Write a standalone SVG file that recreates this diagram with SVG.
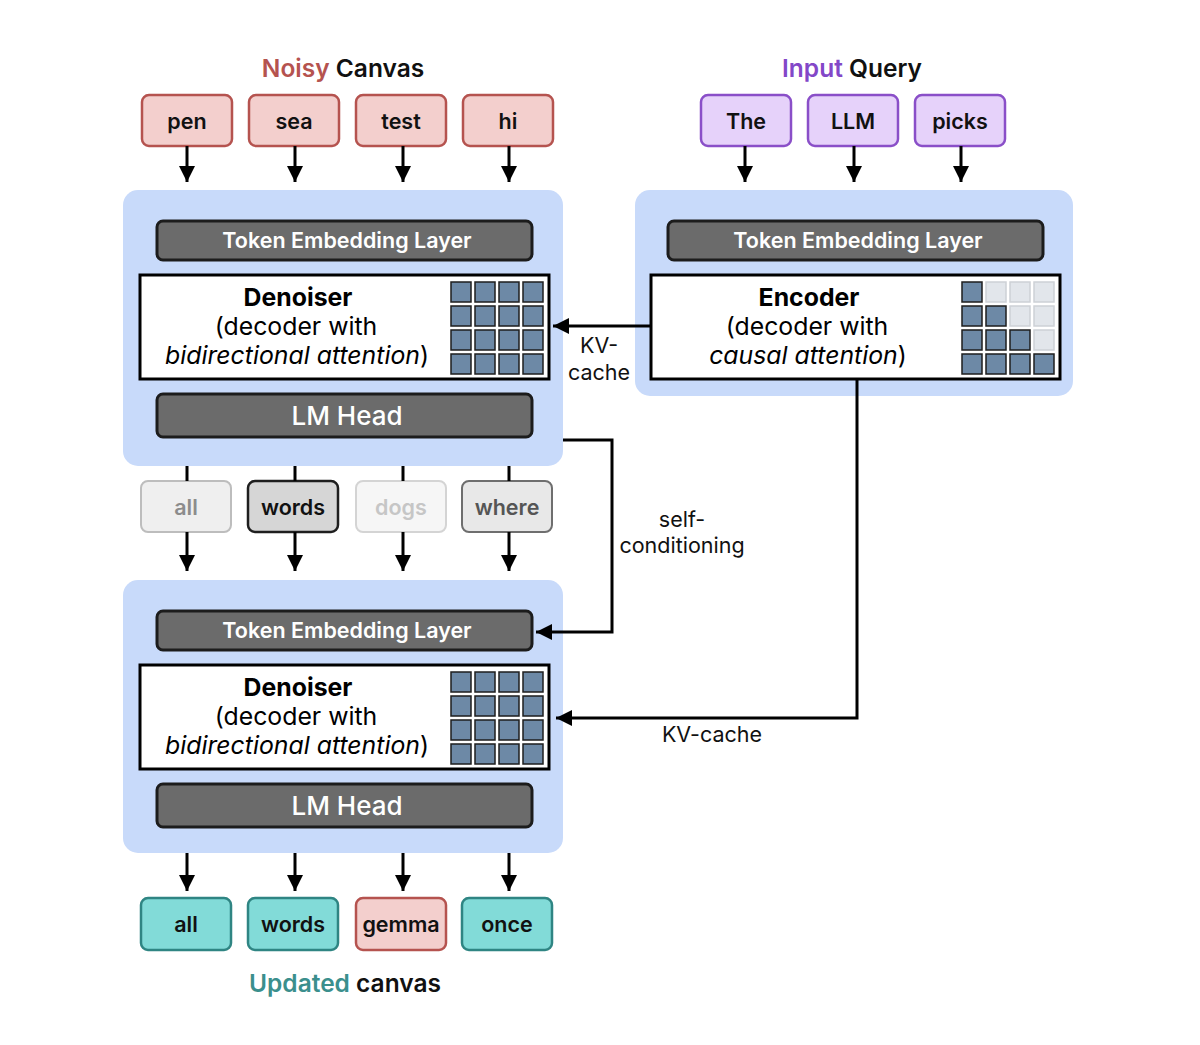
<svg xmlns="http://www.w3.org/2000/svg" width="1200" height="1045" viewBox="0 0 1200 1045">
<defs>
<marker id="ah" markerUnits="userSpaceOnUse" markerWidth="18" markerHeight="16" refX="16" refY="8" orient="auto">
<path d="M0,0 L16,8 L0,16 Z" fill="#000"/>
</marker>
<style>
text{font-family:Inter,"Noto Sans","Liberation Sans",sans-serif;}
.cont{fill:#c8dafa;}
.bar{fill:#6b6b6b;stroke:#1c1c1c;stroke-width:3;}
.bart{fill:#fff;font-size:21.5px;font-weight:600;text-anchor:middle;}
.lmt{fill:#fff;font-size:26px;font-weight:500;text-anchor:middle;}
.wbox{fill:#fff;stroke:#000;stroke-width:3;}
.cell{fill:#6d89a6;stroke:#1e1e1e;stroke-width:1.5;}
.lcell{fill:#e2e6eb;stroke:#cdd1d6;stroke-width:1.5;}
.bt{font-size:24.8px;font-weight:700;text-anchor:middle;fill:#000;}
.rt{font-size:24.8px;font-weight:400;text-anchor:middle;fill:#000;}
.it{font-style:italic;}
.tok{font-size:21.5px;font-weight:600;text-anchor:middle;}
.pink{fill:#f3cfcd;stroke:#b5534f;stroke-width:2.5;}
.purp{fill:#e6d2fa;stroke:#8a4fc8;stroke-width:2.5;}
.teal{fill:#82dbd8;stroke:#2f8583;stroke-width:2.5;}
.conn{stroke:#000;stroke-width:3;fill:none;}
.lbl{font-size:21.5px;font-weight:400;text-anchor:middle;fill:#111;}
.ttl{font-size:24.5px;font-weight:600;text-anchor:middle;}
</style>
</defs>
<rect width="1200" height="1045" fill="#fff"/>

<!-- titles -->
<g id="title-noisy"><text class="ttl" x="343" y="77"><tspan fill="#b5534f">Noisy</tspan><tspan fill="#111"> Canvas</tspan></text></g>
<g id="title-query"><text class="ttl" x="852" y="77"><tspan fill="#8347c8">Input</tspan><tspan fill="#111"> Query</tspan></text></g>
<g id="title-updated"><text class="ttl" x="345" y="992"><tspan fill="#3b8f8d">Updated</tspan><tspan fill="#111"> canvas</tspan></text></g>

<!-- noisy tokens -->
<g id="tok-pen"><rect class="pink" x="142" y="95" width="90" height="51" rx="7"/><text class="tok" x="187" y="129" fill="#111">pen</text></g>
<g id="tok-sea"><rect class="pink" x="249" y="95" width="90" height="51" rx="7"/><text class="tok" x="294" y="129" fill="#111">sea</text></g>
<g id="tok-test"><rect class="pink" x="356" y="95" width="90" height="51" rx="7"/><text class="tok" x="401" y="129" fill="#111">test</text></g>
<g id="tok-hi"><rect class="pink" x="463" y="95" width="90" height="51" rx="7"/><text class="tok" x="508" y="129" fill="#111">hi</text></g>

<!-- query tokens -->
<g id="tok-the"><rect class="purp" x="701" y="95" width="90" height="51" rx="7"/><text class="tok" x="746" y="129" fill="#111">The</text></g>
<g id="tok-llm"><rect class="purp" x="808" y="95" width="90" height="51" rx="7"/><text class="tok" x="853" y="129" fill="#111">LLM</text></g>
<g id="tok-picks"><rect class="purp" x="915" y="95" width="90" height="51" rx="7"/><text class="tok" x="960" y="129" fill="#111">picks</text></g>

<!-- top denoiser block -->
<g id="denoiser1">
<rect class="cont" x="123" y="190" width="440" height="276" rx="15"/>
<rect class="bar" x="157" y="221" width="375" height="39" rx="6"/>
<text class="bart" x="347" y="248">Token Embedding Layer</text>
<rect class="wbox" x="140" y="275" width="409" height="104"/>
<text class="bt" x="298" y="306">Denoiser</text>
<text class="rt" x="296" y="335">(decoder with</text>
<text class="rt" x="297" y="364"><tspan class="it">bidirectional attention</tspan>)</text>
<g>
<rect class="cell" x="451" y="282" width="20" height="20"/><rect class="cell" x="475" y="282" width="20" height="20"/><rect class="cell" x="499" y="282" width="20" height="20"/><rect class="cell" x="523" y="282" width="20" height="20"/>
<rect class="cell" x="451" y="306" width="20" height="20"/><rect class="cell" x="475" y="306" width="20" height="20"/><rect class="cell" x="499" y="306" width="20" height="20"/><rect class="cell" x="523" y="306" width="20" height="20"/>
<rect class="cell" x="451" y="330" width="20" height="20"/><rect class="cell" x="475" y="330" width="20" height="20"/><rect class="cell" x="499" y="330" width="20" height="20"/><rect class="cell" x="523" y="330" width="20" height="20"/>
<rect class="cell" x="451" y="354" width="20" height="20"/><rect class="cell" x="475" y="354" width="20" height="20"/><rect class="cell" x="499" y="354" width="20" height="20"/><rect class="cell" x="523" y="354" width="20" height="20"/>
</g>
<rect class="bar" x="157" y="394" width="375" height="43" rx="6"/>
<text class="lmt" x="347" y="425">LM Head</text>
</g>

<!-- encoder block -->
<g id="encoder">
<rect class="cont" x="635" y="190" width="438" height="206" rx="15"/>
<rect class="bar" x="668" y="221" width="375" height="39" rx="6"/>
<text class="bart" x="858" y="248">Token Embedding Layer</text>
<rect class="wbox" x="651" y="275" width="409" height="104"/>
<text class="bt" x="809" y="306">Encoder</text>
<text class="rt" x="807" y="335">(decoder with</text>
<text class="rt" x="808" y="364"><tspan class="it">causal attention</tspan>)</text>
<g>
<rect class="cell" x="962" y="282" width="20" height="20"/><rect class="lcell" x="986" y="282" width="20" height="20"/><rect class="lcell" x="1010" y="282" width="20" height="20"/><rect class="lcell" x="1034" y="282" width="20" height="20"/>
<rect class="cell" x="962" y="306" width="20" height="20"/><rect class="cell" x="986" y="306" width="20" height="20"/><rect class="lcell" x="1010" y="306" width="20" height="20"/><rect class="lcell" x="1034" y="306" width="20" height="20"/>
<rect class="cell" x="962" y="330" width="20" height="20"/><rect class="cell" x="986" y="330" width="20" height="20"/><rect class="cell" x="1010" y="330" width="20" height="20"/><rect class="lcell" x="1034" y="330" width="20" height="20"/>
<rect class="cell" x="962" y="354" width="20" height="20"/><rect class="cell" x="986" y="354" width="20" height="20"/><rect class="cell" x="1010" y="354" width="20" height="20"/><rect class="cell" x="1034" y="354" width="20" height="20"/>
</g>
</g>

<!-- intermediate tokens -->
<g id="mid-all"><rect x="141" y="481" width="90" height="51" rx="7" fill="#efefef" stroke="#bdbdbd" stroke-width="2"/><text class="tok" x="186" y="515" fill="#8c8c8c">all</text></g>
<g id="mid-words"><rect x="248" y="481" width="90" height="51" rx="7" fill="#d6d6d6" stroke="#1e1e1e" stroke-width="2.5"/><text class="tok" x="293" y="515" fill="#111">words</text></g>
<g id="mid-dogs"><rect x="356" y="481" width="90" height="51" rx="7" fill="#f6f6f6" stroke="#d4d4d4" stroke-width="2"/><text class="tok" x="401" y="515" fill="#c6c6c6">dogs</text></g>
<g id="mid-where"><rect x="462" y="481" width="90" height="51" rx="7" fill="#e8e8e8" stroke="#6e6e6e" stroke-width="2"/><text class="tok" x="507" y="515" fill="#555">where</text></g>

<!-- bottom denoiser block -->
<g id="denoiser2">
<rect class="cont" x="123" y="580" width="440" height="273" rx="15"/>
<rect class="bar" x="157" y="611" width="375" height="39" rx="6"/>
<text class="bart" x="347" y="638">Token Embedding Layer</text>
<rect class="wbox" x="140" y="665" width="409" height="104"/>
<text class="bt" x="298" y="696">Denoiser</text>
<text class="rt" x="296" y="725">(decoder with</text>
<text class="rt" x="297" y="754"><tspan class="it">bidirectional attention</tspan>)</text>
<g>
<rect class="cell" x="451" y="672" width="20" height="20"/><rect class="cell" x="475" y="672" width="20" height="20"/><rect class="cell" x="499" y="672" width="20" height="20"/><rect class="cell" x="523" y="672" width="20" height="20"/>
<rect class="cell" x="451" y="696" width="20" height="20"/><rect class="cell" x="475" y="696" width="20" height="20"/><rect class="cell" x="499" y="696" width="20" height="20"/><rect class="cell" x="523" y="696" width="20" height="20"/>
<rect class="cell" x="451" y="720" width="20" height="20"/><rect class="cell" x="475" y="720" width="20" height="20"/><rect class="cell" x="499" y="720" width="20" height="20"/><rect class="cell" x="523" y="720" width="20" height="20"/>
<rect class="cell" x="451" y="744" width="20" height="20"/><rect class="cell" x="475" y="744" width="20" height="20"/><rect class="cell" x="499" y="744" width="20" height="20"/><rect class="cell" x="523" y="744" width="20" height="20"/>
</g>
<rect class="bar" x="157" y="784" width="375" height="43" rx="6"/>
<text class="lmt" x="347" y="815">LM Head</text>
</g>

<!-- output tokens -->
<g id="out-all"><rect class="teal" x="141" y="898" width="90" height="52" rx="7"/><text class="tok" x="186" y="932" fill="#111">all</text></g>
<g id="out-words"><rect class="teal" x="248" y="898" width="90" height="52" rx="7"/><text class="tok" x="293" y="932" fill="#111">words</text></g>
<g id="out-gemma"><rect class="pink" x="356" y="898" width="90" height="52" rx="7"/><text class="tok" x="401" y="932" fill="#111">gemma</text></g>
<g id="out-once"><rect class="teal" x="462" y="898" width="90" height="52" rx="7"/><text class="tok" x="507" y="932" fill="#111">once</text></g>

<!-- connectors -->
<g id="connectors">
<line class="conn" x1="187" y1="146" x2="187" y2="182" marker-end="url(#ah)"/>
<line class="conn" x1="295" y1="146" x2="295" y2="182" marker-end="url(#ah)"/>
<line class="conn" x1="403" y1="146" x2="403" y2="182" marker-end="url(#ah)"/>
<line class="conn" x1="509" y1="146" x2="509" y2="182" marker-end="url(#ah)"/>
<line class="conn" x1="745" y1="146" x2="745" y2="182" marker-end="url(#ah)"/>
<line class="conn" x1="854" y1="146" x2="854" y2="182" marker-end="url(#ah)"/>
<line class="conn" x1="961" y1="146" x2="961" y2="182" marker-end="url(#ah)"/>

<line class="conn" x1="187" y1="466" x2="187" y2="481"/>
<line class="conn" x1="295" y1="466" x2="295" y2="481"/>
<line class="conn" x1="403" y1="466" x2="403" y2="481"/>
<line class="conn" x1="509" y1="466" x2="509" y2="481"/>
<line class="conn" x1="187" y1="532" x2="187" y2="571" marker-end="url(#ah)"/>
<line class="conn" x1="295" y1="532" x2="295" y2="571" marker-end="url(#ah)"/>
<line class="conn" x1="403" y1="532" x2="403" y2="571" marker-end="url(#ah)"/>
<line class="conn" x1="509" y1="532" x2="509" y2="571" marker-end="url(#ah)"/>

<line class="conn" x1="187" y1="853" x2="187" y2="891" marker-end="url(#ah)"/>
<line class="conn" x1="295" y1="853" x2="295" y2="891" marker-end="url(#ah)"/>
<line class="conn" x1="403" y1="853" x2="403" y2="891" marker-end="url(#ah)"/>
<line class="conn" x1="509" y1="853" x2="509" y2="891" marker-end="url(#ah)"/>

<path class="conn" d="M651,326 L553,326" marker-end="url(#ah)"/>
<path class="conn" d="M563,440 L612,440 L612,632 L536,632" marker-end="url(#ah)"/>
<path class="conn" d="M857,379 L857,718 L556,718" marker-end="url(#ah)"/>

<text class="lbl" x="599" y="353">KV-</text>
<text class="lbl" x="599" y="380">cache</text>
<text class="lbl" x="682" y="527">self-</text>
<text class="lbl" x="682" y="553">conditioning</text>
<text class="lbl" x="712" y="742">KV-cache</text>
</g>
</svg>
